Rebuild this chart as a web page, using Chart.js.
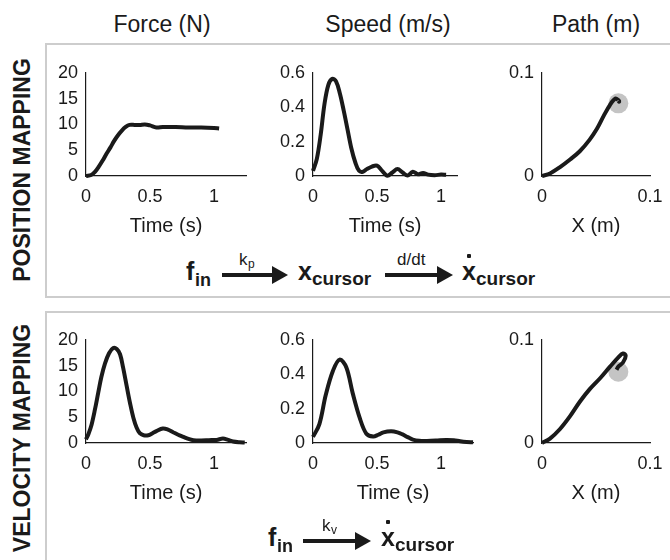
<!DOCTYPE html>
<html>
<head>
<meta charset="utf-8">
<script src="https://cdn.jsdelivr.net/npm/chart.js@4.4.1/dist/chart.umd.min.js"></script>
<style>
  html, body { margin: 0; padding: 0; background: #fff; }
  body { width: 670px; height: 560px; position: relative; overflow: hidden;
         font-family: "Liberation Sans", Arial, sans-serif; color: #1a1a1a; }
  .panel { position: absolute; left: 45px; width: 700px; border: 2px solid #cdcdcd; box-sizing: border-box; }
  .head { position: absolute; top: 11px; font-size: 23px; transform: translateX(-50%); white-space: nowrap; }
  .rowlab { position: absolute; font-weight: bold; font-size: 23px; white-space: nowrap;
            transform: translate(-50%, -50%) rotate(-90deg); }
  .t { position: absolute; white-space: nowrap; line-height: 1; }
  .bar, .dot { position: absolute; background: #1a1a1a; }
  .head-tri { position: absolute; width: 0; height: 0; border-style: solid; border-color: transparent transparent transparent #1a1a1a; }
  canvas { position: absolute; }
</style>
</head>
<body>
<div class="panel" style="top:43px;height:255px;"></div>
<div class="panel" style="top:311px;height:300px;"></div>

<div class="head" style="left:162px;">Force (N)</div>
<div class="head" style="left:388px;">Speed (m/s)</div>
<div class="head" style="left:596px;">Path (m)</div>

<div class="rowlab" style="left:22px;top:170px;">POSITION MAPPING</div>
<div class="rowlab" style="left:22px;top:438px;">VELOCITY MAPPING</div>

<canvas id="f1"></canvas><canvas id="s1"></canvas><canvas id="p1"></canvas>
<canvas id="f2"></canvas><canvas id="s2"></canvas><canvas id="p2"></canvas>

<script>
// ---- data ----
const timeTicks = [0, 0.5, 1];
const forceTicks = [0, 5, 10, 15, 20];
const speedTicks = [0, 0.2, 0.4, 0.6];
const pathTicks = [0, 0.1];

// position mapping
const forceTimePos = [0, 0.04, 0.07, 0.10, 0.13, 0.16, 0.19, 0.22, 0.25, 0.28, 0.31, 0.34, 0.38, 0.42, 0.46, 0.50, 0.55, 0.60, 0.70, 0.80, 0.90, 1.00, 1.04];
const forcePos = [0, 0.2, 0.8, 1.8, 3.0, 4.3, 5.5, 6.8, 7.9, 8.8, 9.5, 9.9, 9.9, 9.9, 10.0, 9.8, 9.4, 9.5, 9.5, 9.4, 9.4, 9.3, 9.2];
const speedTimePos = [0, 0.03, 0.06, 0.09, 0.12, 0.15, 0.18, 0.21, 0.24, 0.27, 0.30, 0.33, 0.36, 0.39, 0.42, 0.46, 0.50, 0.54, 0.58, 0.62, 0.66, 0.70, 0.74, 0.78, 0.82, 0.86, 0.90, 0.95, 1.00, 1.04];
const speedPos = [0.03, 0.10, 0.24, 0.42, 0.53, 0.565, 0.55, 0.48, 0.38, 0.27, 0.16, 0.08, 0.03, 0.025, 0.04, 0.055, 0.06, 0.03, 0.002, 0.02, 0.04, 0.02, 0.003, 0.025, 0.01, 0.018, 0.008, 0.005, 0.008, 0.007];
const pathXPos = [0, 0.0074, 0.0167, 0.026, 0.035, 0.044, 0.051, 0.057, 0.063, 0.068, 0.0707, 0.0715, 0.0705];
const pathYPos = [0, 0.0025, 0.0086, 0.016, 0.024, 0.035, 0.046, 0.058, 0.069, 0.075, 0.0735, 0.072, 0.0728];
const targetPos = [0.0707, 0.0704];

// velocity mapping
const forceTimeVel = [0, 0.02, 0.044, 0.07, 0.096, 0.12, 0.148, 0.18, 0.213, 0.24, 0.266, 0.29, 0.318, 0.345, 0.37, 0.395, 0.42, 0.45, 0.487, 0.52, 0.55, 0.60, 0.64, 0.68, 0.72, 0.76, 0.80, 0.84, 0.90, 0.96, 1.02, 1.07, 1.11, 1.15, 1.20, 1.24];
const forceVel = [0.7, 1.8, 3.6, 6.5, 9.8, 12.8, 15.4, 17.4, 18.4, 18.2, 17.2, 14.6, 11.0, 7.6, 4.9, 3.0, 1.9, 1.5, 1.5, 1.9, 2.3, 2.8, 2.6, 2.1, 1.6, 1.2, 0.8, 0.55, 0.5, 0.55, 0.6, 0.85, 0.6, 0.3, 0.15, 0.1];
const speedTimeVel = [0, 0.05, 0.10, 0.156, 0.208, 0.26, 0.31, 0.365, 0.417, 0.47, 0.51, 0.55, 0.61, 0.66, 0.70, 0.74, 0.78, 0.83, 0.89, 0.96, 1.04, 1.10, 1.15, 1.20, 1.25];
const speedVel = [0.035, 0.11, 0.28, 0.42, 0.485, 0.44, 0.29, 0.146, 0.054, 0.038, 0.048, 0.062, 0.068, 0.062, 0.05, 0.034, 0.02, 0.013, 0.012, 0.014, 0.018, 0.016, 0.01, 0.006, 0.004];
const pathXVel = [0, 0.0074, 0.0167, 0.026, 0.035, 0.044, 0.054, 0.063, 0.0707, 0.075, 0.0775, 0.075, 0.0707, 0.069];
const pathYVel = [0, 0.0043, 0.0136, 0.026, 0.040, 0.052, 0.063, 0.074, 0.083, 0.0868, 0.0846, 0.078, 0.074, 0.071];
const targetVel = [0.0707, 0.069];

// ---- layout of the small axes ----
const YW = 56, PT = 14, PR = 24, XH = 62;
const FONT = 'Liberation Sans';
const INK = '#1a1a1a';

function pts(xs, ys) {
  return xs.map((x, i) => ({ x: x, y: ys[i] }));
}

function axes(id, box, xs, ys, xMax, yMax, xTicks, yTicks, xTitle, target) {
  const cv = document.getElementById(id);
  const w = YW + box.w + PR, h = PT + box.h + XH;
  cv.width = w; cv.height = h;
  cv.style.left = (box.left - YW) + 'px';
  cv.style.top = (box.top - PT) + 'px';
  cv.style.width = w + 'px';
  cv.style.height = h + 'px';

  const datasets = [{
    data: pts(xs, ys),
    borderColor: INK,
    borderWidth: 4,
    pointRadius: 0,
    tension: 0.35,
    fill: false,
    clip: false
  }];
  if (target) {
    datasets.push({
      data: [{ x: target[0], y: target[1] }],
      showLine: false,
      pointRadius: 10,
      pointBackgroundColor: '#c4c4c4',
      pointBorderWidth: 0,
      clip: false
    });
  }

  new Chart(cv, {
    type: 'line',
    data: { datasets: datasets },
    options: {
      responsive: false,
      animation: false,
      events: [],
      layout: { padding: { top: PT, right: PR, left: 0, bottom: 0 } },
      plugins: { legend: { display: false }, tooltip: { enabled: false } },
      scales: {
        x: {
          type: 'linear',
          min: 0,
          max: xMax,
          afterBuildTicks: (s) => { s.ticks = xTicks.map(v => ({ value: v })); },
          afterFit: (s) => { s.height = XH; },
          grid: { display: false, drawTicks: false },
          border: { display: true, color: INK, width: 1.2 },
          ticks: { padding: 10, color: INK, font: { family: FONT, size: 18 }, callback: (v) => String(v), maxRotation: 0 },
          title: { display: true, text: xTitle, color: INK, padding: 0, font: { family: FONT, size: 20 } }
        },
        y: {
          min: 0,
          max: yMax,
          afterBuildTicks: (s) => { s.ticks = yTicks.map(v => ({ value: v })); },
          afterFit: (s) => { s.width = YW; },
          grid: { display: false, drawTicks: false },
          border: { display: true, color: INK, width: 1.2 },
          ticks: { padding: 8, color: INK, font: { family: FONT, size: 18 }, callback: (v) => String(v) }
        }
      }
    }
  });
}

axes('f1', { left: 86, top: 68, w: 160, h: 108 }, forceTimePos, forcePos, 1.25, 20, timeTicks, forceTicks, 'Time (s)');
axes('s1', { left: 313, top: 68, w: 144, h: 108 }, speedTimePos, speedPos, 1.125, 0.6, timeTicks, speedTicks, 'Time (s)');
axes('p1', { left: 542, top: 68, w: 108, h: 108 }, pathXPos, pathYPos, 0.1, 0.1, pathTicks, pathTicks, 'X (m)', targetPos);
axes('f2', { left: 86, top: 335, w: 160, h: 108 }, forceTimeVel, forceVel, 1.25, 20, timeTicks, forceTicks, 'Time (s)');
axes('s2', { left: 313, top: 335, w: 160, h: 108 }, speedTimeVel, speedVel, 1.25, 0.6, timeTicks, speedTicks, 'Time (s)');
axes('p2', { left: 542, top: 335, w: 108, h: 108 }, pathXVel, pathYVel, 0.1, 0.1, pathTicks, pathTicks, 'X (m)', targetVel);

// ---- mapping formulas under each row ----
function txt(x, base, size, bold, s) {
  const d = document.createElement('div');
  d.className = 't';
  d.textContent = s;
  d.style.left = x + 'px';
  d.style.top = (base - 0.8465 * size) + 'px';
  d.style.fontSize = size + 'px';
  if (bold) d.style.fontWeight = 'bold';
  document.body.appendChild(d);
}
function arrow(x1, x2, y) {
  const bar = document.createElement('div');
  bar.className = 'bar';
  bar.style.left = x1 + 'px';
  bar.style.top = (y - 2) + 'px';
  bar.style.width = (x2 - x1 - 12) + 'px';
  bar.style.height = '4px';
  document.body.appendChild(bar);
  const tri = document.createElement('div');
  tri.className = 'head-tri';
  tri.style.left = (x2 - 15) + 'px';
  tri.style.top = (y - 9) + 'px';
  tri.style.borderWidth = '9px 0 9px 16px';
  document.body.appendChild(tri);
}
function dotX(x, base) {
  txt(x, base, 25, true, 'x');
  const d = document.createElement('div');
  d.className = 'dot';
  d.style.left = (x + 5) + 'px';
  d.style.top = (base - 26) + 'px';
  d.style.width = '4px';
  d.style.height = '4px';
  d.style.borderRadius = '1px';
  document.body.appendChild(d);
}

// position mapping: f_in -kp-> x_cursor -d/dt-> xdot_cursor
let B = 280;
txt(186, B, 25, true, 'f');
txt(195, B + 6, 18, true, 'in');
arrow(222, 287, B - 5);
txt(239, B - 15, 17, false, 'k');
txt(248, B - 12, 12, false, 'p');
txt(298, B, 25, true, 'x');
txt(312, B + 5, 19, true, 'cursor');
arrow(385, 452, B - 5);
txt(397, B - 15, 17, false, 'd/dt');
dotX(462, B);
txt(476, B + 5, 19, true, 'cursor');

// velocity mapping: f_in -kv-> xdot_cursor
B = 546;
txt(268, B, 25, true, 'f');
txt(277, B + 6, 18, true, 'in');
arrow(303, 370, B - 5);
txt(322, B - 15, 17, false, 'k');
txt(331, B - 12, 12, false, 'v');
dotX(381, B);
txt(395, B + 5, 19, true, 'cursor');
</script>
</body>
</html>
